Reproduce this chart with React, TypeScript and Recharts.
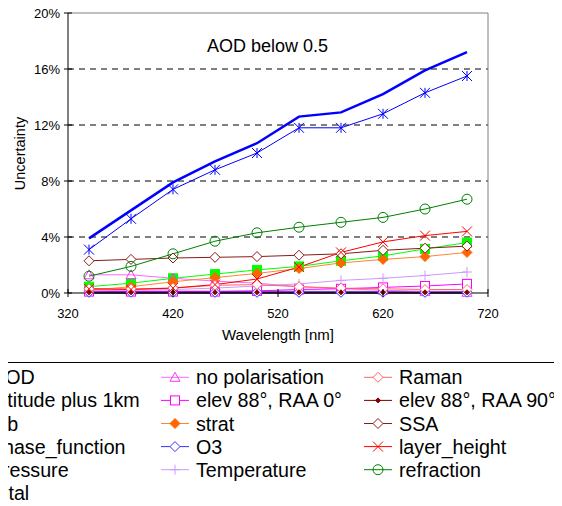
import React from 'react';
import { LineChart, Line, XAxis, YAxis, CartesianGrid, ReferenceLine } from 'recharts';

const FONT = '"Liberation Sans", Arial, Helvetica, sans-serif';

// Wavelengths in nm; uncertainties in percent
const wavelengths = [340, 380, 420, 460, 500, 540, 580, 620, 660, 700];
const xTicks = [320, 420, 520, 620, 720];
const yTicks = [0, 4, 8, 12, 16, 20];
const gridValues = [4, 8, 12, 16];

const aodValues = [3.1, 5.3, 7.4, 8.8, 10.0, 11.8, 11.8, 12.8, 14.3, 15.5];
const altitudeValues = [0.05, 0.05, 0.05, 0.05, 0.05, 0.05, 0.05, 0.05, 0.05, 0.05];
const albValues = [0.45, 0.7, 1.05, 1.35, 1.65, 1.9, 2.3, 2.65, 3.15, 3.6];
const phaseValues = [0.12, 0.12, 0.12, 0.12, 0.12, 0.1, 0.1, 0.1, 0.1, 0.1];
const pressureValues = [0.02, 0.02, 0.02, 0.02, 0.02, 0.02, 0.02, 0.02, 0.02, 0.02];
const totalValues = [3.9, 5.9, 7.9, 9.4, 10.7, 12.6, 12.9, 14.2, 15.9, 17.2];
const noPolValues = [1.3, 1.3, 1.05, 0.85, 0.7, 0.45, 0.3, 0.2, 0.1, 0.05];
const elev0Values = [0.1, 0.1, 0.1, 0.1, 0.15, 0.25, 0.3, 0.4, 0.5, 0.65];
const stratValues = [0.2, 0.45, 0.8, 1.1, 1.4, 1.75, 2.15, 2.4, 2.6, 2.9];
const o3Values = [0.05, 0.05, 0.05, 0.05, 0.05, 0.05, 0.05, 0.05, 0.05, 0.05];
const temperatureValues = [0.15, 0.2, 0.25, 0.35, 0.5, 0.65, 0.9, 1.05, 1.25, 1.5];
const ramanValues = [0.3, 0.3, 0.35, 0.55, 0.6, 0.45, 0.35, 0.3, 0.25, 0.25];
const elev90Values = [0.05, 0.05, 0.05, 0.05, 0.05, 0.05, 0.05, 0.05, 0.05, 0.05];
const ssaValues = [2.3, 2.4, 2.5, 2.55, 2.6, 2.7, 2.8, 3.05, 3.2, 3.35];
const layerHeightValues = [0.3, 0.25, 0.35, 0.6, 1.0, 1.85, 2.9, 3.65, 4.1, 4.4];
const refractionValues = [1.2, 1.9, 2.8, 3.7, 4.3, 4.7, 5.05, 5.4, 6.0, 6.7];

type Shape = 'none' | 'asterisk' | 'circle' | 'diamond' | 'smallDiamond' | 'x' | 'square' | 'triangle' | 'plus';

interface SeriesDef {
  key: string;
  name: string;
  values: number[];
  color: string;
  markerColor: string;
  width: number;
  shape: Shape;
  filled: boolean;
}

const series: SeriesDef[] = [
  { key: 'aod', name: 'AOD', values: aodValues, color: '#0000FF', markerColor: '#0000FF', width: 1, shape: 'asterisk', filled: false },
  { key: 'altitude', name: 'altitude plus 1km', values: altitudeValues, color: '#000080', markerColor: '#000080', width: 1.5, shape: 'none', filled: false },
  { key: 'alb', name: 'alb', values: albValues, color: '#00FF00', markerColor: '#00FF00', width: 1, shape: 'square', filled: true },
  { key: 'phase', name: 'phase_function', values: phaseValues, color: '#9999FF', markerColor: '#9999FF', width: 1.5, shape: 'none', filled: false },
  { key: 'pressure', name: 'pressure', values: pressureValues, color: '#000099', markerColor: '#000099', width: 2, shape: 'none', filled: false },
  { key: 'total', name: 'total', values: totalValues, color: '#0000FF', markerColor: '#0000FF', width: 2.5, shape: 'none', filled: false },
  { key: 'noPol', name: 'no polarisation', values: noPolValues, color: '#FF66FF', markerColor: '#FF33FF', width: 1, shape: 'triangle', filled: false },
  { key: 'elev0', name: 'elev 88°, RAA 0°', values: elev0Values, color: '#FF00FF', markerColor: '#FF00FF', width: 1, shape: 'square', filled: false },
  { key: 'strat', name: 'strat', values: stratValues, color: '#FF8533', markerColor: '#FF6600', width: 1, shape: 'diamond', filled: true },
  { key: 'o3', name: 'O3', values: o3Values, color: '#3333FF', markerColor: '#3333FF', width: 1, shape: 'diamond', filled: false },
  { key: 'temperature', name: 'Temperature', values: temperatureValues, color: '#CC99FF', markerColor: '#CC99FF', width: 1, shape: 'plus', filled: false },
  { key: 'raman', name: 'Raman', values: ramanValues, color: '#FF6666', markerColor: '#FF6666', width: 1, shape: 'diamond', filled: false },
  { key: 'elev90', name: 'elev 88°, RAA 90°', values: elev90Values, color: '#800000', markerColor: '#800000', width: 1, shape: 'smallDiamond', filled: true },
  { key: 'ssa', name: 'SSA', values: ssaValues, color: '#8B1A1A', markerColor: '#8B1A1A', width: 1, shape: 'diamond', filled: false },
  { key: 'layerHeight', name: 'layer_height', values: layerHeightValues, color: '#FF0000', markerColor: '#FF0000', width: 1, shape: 'x', filled: false },
  { key: 'refraction', name: 'refraction', values: refractionValues, color: '#008000', markerColor: '#008000', width: 1, shape: 'circle', filled: false },
];

const legendColumns: string[][] = [
  ['aod', 'altitude', 'alb', 'phase', 'pressure', 'total'],
  ['noPol', 'elev0', 'strat', 'o3', 'temperature'],
  ['raman', 'elev90', 'ssa', 'layerHeight', 'refraction'],
];

const rows = wavelengths.map((wl, i) => {
  const row: Record<string, number> = { wl };
  series.forEach((s) => {
    row[s.key] = s.values[i];
  });
  return row;
});

function Marker({ shape, cx, cy, color, filled }: { shape: Shape; cx: number; cy: number; color: string; filled: boolean }) {
  const fill = filled ? color : '#FFFFFF';
  switch (shape) {
    case 'asterisk': {
      const h = 5;
      return (
        <g stroke={color} strokeWidth={1}>
          <line x1={cx - h} y1={cy - h} x2={cx + h} y2={cy + h} />
          <line x1={cx - h} y1={cy + h} x2={cx + h} y2={cy - h} />
          <line x1={cx} y1={cy - h} x2={cx} y2={cy + h} />
        </g>
      );
    }
    case 'circle':
      return <circle cx={cx} cy={cy} r={5} stroke={color} strokeWidth={1} fill="none" />;
    case 'diamond': {
      const h = 5;
      return <polygon points={`${cx},${cy - h} ${cx + h},${cy} ${cx},${cy + h} ${cx - h},${cy}`} stroke={color} strokeWidth={1} fill={fill} />;
    }
    case 'smallDiamond': {
      const h = 2.5;
      return <polygon points={`${cx},${cy - h} ${cx + h},${cy} ${cx},${cy + h} ${cx - h},${cy}`} stroke={color} strokeWidth={1} fill={fill} />;
    }
    case 'x': {
      const h = 5;
      return (
        <g stroke={color} strokeWidth={1}>
          <line x1={cx - h} y1={cy - h} x2={cx + h} y2={cy + h} />
          <line x1={cx - h} y1={cy + h} x2={cx + h} y2={cy - h} />
        </g>
      );
    }
    case 'square': {
      const h = 4.5;
      return <rect x={cx - h} y={cy - h} width={2 * h} height={2 * h} stroke={color} strokeWidth={1} fill={fill} />;
    }
    case 'triangle': {
      const h = 5;
      return <polygon points={`${cx},${cy - h} ${cx + h},${cy + h * 0.8} ${cx - h},${cy + h * 0.8}`} stroke={color} strokeWidth={1} fill="none" />;
    }
    case 'plus': {
      const h = 5;
      return (
        <g stroke={color} strokeWidth={1}>
          <line x1={cx - h} y1={cy} x2={cx + h} y2={cy} />
          <line x1={cx} y1={cy - h} x2={cx} y2={cy + h} />
        </g>
      );
    }
    default:
      return null;
  }
}

const makeDot = (s: SeriesDef) => {
  if (s.shape === 'none') return false;
  return (props: any) => {
    const { cx, cy, index } = props;
    if (cx == null || cy == null) return <g key={`${s.key}-${index}`} />;
    return (
      <g key={`${s.key}-${index}`}>
        <Marker shape={s.shape} cx={cx} cy={cy} color={s.markerColor} filled={s.filled} />
      </g>
    );
  };
};

const XTick = (props: any) => {
  const { x, y, payload } = props;
  return (
    <g>
      <line x1={x} y1={y - 4} x2={x} y2={y + 4} stroke="#000" strokeWidth={1} />
      <text x={x} y={y + 25} textAnchor="middle" fontSize={13} fontFamily={FONT} fill="#000">
        {payload.value}
      </text>
    </g>
  );
};

const YTick = (props: any) => {
  const { x, y, payload } = props;
  return (
    <g>
      <line x1={x - 4} y1={y} x2={x + 4} y2={y} stroke="#000" strokeWidth={1} />
      <text x={x - 8} y={y + 4.7} textAnchor="end" fontSize={13} fontFamily={FONT} fill="#000">
        {`${payload.value}%`}
      </text>
    </g>
  );
};

const byKey = (k: string) => series.find((s) => s.key === k) as SeriesDef;

const legendColX = [-8, 196, 399];
const legendBaseY = 376.3;
const legendRowGap = 23.1;

export default function App() {
  return (
    <div style={{ position: 'relative', marginLeft: -8, width: 562, height: 498, overflow: 'hidden', fontFamily: FONT }}>
      <LineChart width={562} height={498} data={rows} margin={{ top: 5, right: 74, left: 0, bottom: 183 }}>
        <CartesianGrid vertical={false} horizontalValues={gridValues} stroke="#000" strokeDasharray="6 5" />
        <XAxis
          dataKey="wl"
          type="number"
          domain={[320, 720]}
          ticks={xTicks}
          interval={0}
          height={30}
          tickSize={0}
          tickMargin={0}
          tickLine={false}
          axisLine={{ stroke: '#000' }}
          tick={<XTick />}
        />
        <YAxis
          type="number"
          domain={[0, 20]}
          ticks={yTicks}
          interval={0}
          width={68}
          tickSize={0}
          tickMargin={0}
          tickLine={false}
          axisLine={{ stroke: '#000' }}
          tick={<YTick />}
        />
        <ReferenceLine y={20} stroke="#808080" strokeWidth={1} strokeDasharray="0" />
        <ReferenceLine x={720} stroke="#808080" strokeWidth={1} strokeDasharray="0" />
        {series.map((s) => (
          <Line
            key={s.key}
            dataKey={s.key}
            name={s.name}
            type="linear"
            stroke={s.color}
            strokeWidth={s.width}
            dot={makeDot(s)}
            activeDot={false}
            isAnimationActive={false}
          />
        ))}
      </LineChart>
      <svg width={562} height={498} style={{ position: 'absolute', left: 0, top: 0, pointerEvents: 'none' }}>
        <text x={207} y={44} fontSize={18} fontFamily={FONT} fill="#000">AOD below 0.5</text>
        <text x={25} y={145.5} transform="rotate(-90, 25, 145.5)" textAnchor="middle" fontSize={14.5} fontFamily={FONT} fill="#000">
          Uncertainty
        </text>
        <text x={278} y={332} textAnchor="middle" fontSize={15} fontFamily={FONT} fill="#000">
          Wavelength [nm]
        </text>
        <rect x={-60.5} y={354.5} width={620} height={200} fill="#FFFFFF" stroke="#000" strokeWidth={1} />
        {legendColumns.map((col, ci) =>
          col.map((k, ri) => {
            const s = byKey(k);
            const tx = legendColX[ci];
            const by = legendBaseY + ri * legendRowGap;
            const ly = by - 7;
            const x1 = tx - 35;
            const x2 = tx - 7;
            return (
              <g key={k}>
                <line x1={x1} y1={ly} x2={x2} y2={ly} stroke={s.color} strokeWidth={s.width} />
                <Marker shape={s.shape} cx={(x1 + x2) / 2} cy={ly} color={s.markerColor} filled={s.filled} />
                <text x={tx} y={by} fontSize={19.7} fontFamily={FONT} fill="#000">
                  {s.name}
                </text>
              </g>
            );
          })
        )}
      </svg>
    </div>
  );
}
